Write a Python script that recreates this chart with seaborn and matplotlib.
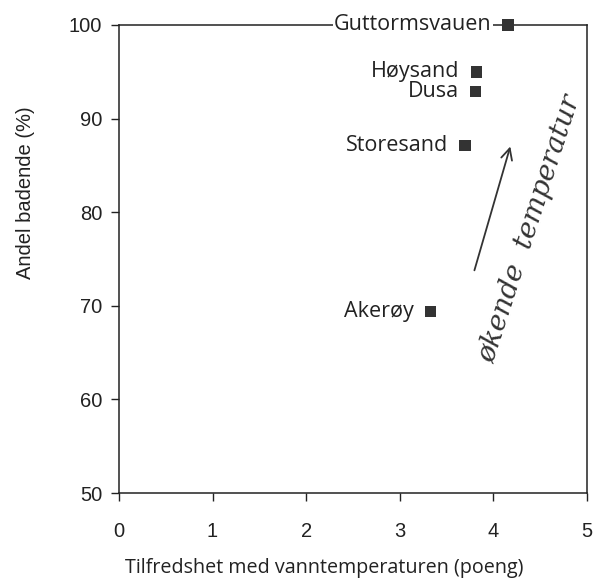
import matplotlib
matplotlib.use('Agg')
import matplotlib.pyplot as plt
import seaborn as sns
import pandas as pd

# Data
beaches = ['Guttormsvauen', 'Høysand', 'Dusa', 'Storesand', 'Akerøy']
satisfaction = [4.16, 3.82, 3.81, 3.70, 3.33]
bathing_share = [100.0, 95.0, 92.9, 87.1, 69.4]

x_ticks = [0, 1, 2, 3, 4, 5]
y_ticks = [50, 60, 70, 80, 90, 100]

df = pd.DataFrame({'beach': beaches, 'x': satisfaction, 'y': bathing_share})

sns.set_style('white')
plt.rcParams['font.family'] = ['Liberation Sans', 'DejaVu Sans']

fig = plt.figure(figsize=(5.94, 5.79), dpi=100)
ax = fig.add_axes([0.2003, 0.1485, 0.7877, 0.8085])

sns.scatterplot(data=df, x='x', y='y', marker='s', s=70, color='#333333',
                edgecolor='none', ax=ax, zorder=5, clip_on=False)

for b, x, y in zip(beaches, satisfaction, bathing_share):
    bbox = dict(facecolor='white', edgecolor='none', pad=1) if y >= 100 else None
    ax.annotate(b, (x, y), xytext=(-12, 0), textcoords='offset points',
                ha='right', va='center', fontsize=15.5, color='#222222',
                family=['Open Sans', 'DejaVu Sans'], bbox=bbox, zorder=4)

# arrow and rotated text
ax.annotate('', xy=(4.19, 87.3), xytext=(3.79, 73.5),
            arrowprops=dict(arrowstyle='->', color='#333333', lw=1.3,
                            mutation_scale=20))
ax.text(4.39, 78.2, 'økende  temperatur', rotation=72, ha='center', va='center',
        fontsize=20, style='italic', family=['DejaVu Serif'], color='#333333')

ax.set_xlim(0, 5)
ax.set_ylim(50, 100)
ax.set_xticks(x_ticks)
ax.set_yticks(y_ticks)
ax.tick_params(axis='both', direction='out', length=6, width=1, color='#222222',
               labelsize=14.5, labelcolor='#222222', left=True, bottom=True)
ax.tick_params(axis='x', pad=15)
ax.tick_params(axis='y', pad=6)
for sp in ax.spines.values():
    sp.set_visible(True)
    sp.set_color('#222222')
    sp.set_linewidth(1.1)
ax.set_xlabel('Tilfredshet med vanntemperaturen (poeng)', fontsize=14.2,
              color='#222222', family=['Open Sans', 'DejaVu Sans'])
ax.set_ylabel('Andel badende (%)', fontsize=14.5, color='#222222')
ax.xaxis.set_label_coords(0.438, -0.139)
ax.yaxis.set_label_coords(-0.179, 0.641)

fig.savefig('out.png', dpi=100)
